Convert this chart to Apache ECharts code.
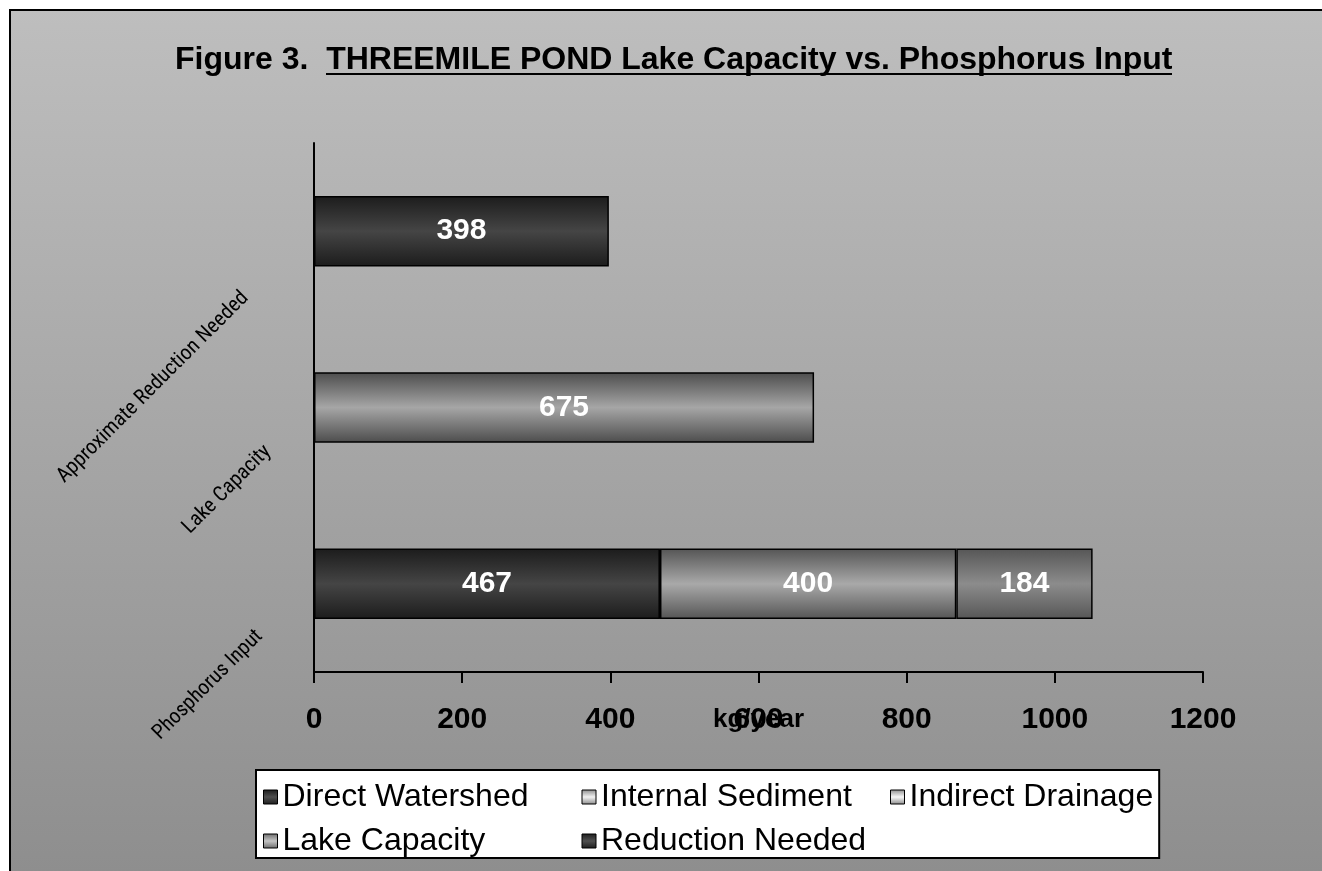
<!DOCTYPE html>
<html><head><meta charset="utf-8"><script src="https://cdn.jsdelivr.net/npm/echarts@6/dist/echarts.min.js"></script></head>
<body style="margin:0;background:#fff"><div id="c" style="width:1322px;height:871px"></div>
<script>
var titleLead = 'Figure 3.  ';
var titleMain = 'THREEMILE POND Lake Capacity vs. Phosphorus Input';
var categories = ['Phosphorus Input', 'Lake Capacity', 'Approximate Reduction Needed'];
var seriesNames = ['Direct Watershed', 'Internal Sediment', 'Indirect Drainage', 'Lake Capacity', 'Reduction Needed'];
var directWatershed = [467, '-', '-'];
var internalSediment = [400, '-', '-'];
var indirectDrainage = [184, '-', '-'];
var lakeCapacity = ['-', 675, '-'];
var reductionNeeded = ['-', '-', 398];
var xTicks = [0, 200, 400, 600, 800, 1000, 1200];
var xAxisName = 'kg/year';

function vgrad(edge, mid) {
  return new echarts.graphic.LinearGradient(0, 0, 0, 1, [
    {offset: 0, color: edge}, {offset: 0.5, color: mid}, {offset: 1, color: edge}
  ]);
}
var fills = [
  vgrad('#1c1c1c', '#454545'),
  vgrad('#555555', '#a9a9a9'),
  vgrad('#565656', '#8c8c8c'),
  vgrad('#4c4c4c', '#a6a6a6'),
  vgrad('#1c1c1c', '#454545')
];
var legendIcons = [
  vgrad('#1c1c1c', '#505050'),
  vgrad('#8a8a8a', '#f2f2f2'),
  vgrad('#8a8a8a', '#f6f6f6'),
  vgrad('#6a6a6a', '#c4c4c4'),
  vgrad('#1c1c1c', '#505050')
];
var dataSets = [directWatershed, internalSediment, indirectDrainage, lakeCapacity, reductionNeeded];
var legendWidths = [289, 279, null, 289, 279];

var series = seriesNames.map(function (n, i) {
  return {
    name: n, type: 'bar', stack: 'total', barWidth: '40%',
    data: dataSets[i],
    itemStyle: {color: fills[i], borderColor: '#000', borderWidth: 1.5},
    label: {show: true, position: 'inside', color: '#fff', fontFamily: 'Liberation Sans, Arial',
      fontWeight: 'bold', fontSize: 30},
    emphasis: {disabled: true}
  };
});

var labelFont = {fontFamily: 'Roboto Condensed', fontSize: 21, color: '#000'};
function rich(pad) {
  return Object.assign({padding: [0, pad, 0, 0]}, labelFont);
}

var chart = echarts.init(document.getElementById('c'));
chart.setOption({
  animation: false,
  backgroundColor: '#fff',
  graphic: [
    {type: 'rect', z: -10, silent: true,
      shape: {x: 10, y: 10, width: 1330, height: 880},
      style: {fill: new echarts.graphic.LinearGradient(0, 0, 0, 1, [
        {offset: 0, color: '#bebebe'}, {offset: 1, color: '#8d8d8d'}]),
        stroke: '#000', lineWidth: 2}},
    {type: 'line', z: 10, silent: true,
      shape: {x1: 326, y1: 74, x2: 1172, y2: 74},
      style: {stroke: '#000', lineWidth: 2}}
  ],
  title: {
    text: titleLead + titleMain,
    left: 175, top: 44, padding: 0,
    textStyle: {fontFamily: 'Liberation Sans, Arial', fontWeight: 'bold', fontSize: 32, color: '#000', lineHeight: 32}
  },
  grid: {left: 314, right: 119, top: 143, bottom: 199, containLabel: false, outerBoundsMode: 'none'},
  xAxis: {
    type: 'value', min: 0, max: 1200, interval: 200,
    name: xAxisName, nameLocation: 'middle', nameGap: 35, nameMoveOverlap: false,
    nameTextStyle: {fontFamily: 'Liberation Sans, Arial', fontWeight: 'bold', fontSize: 26, color: '#000'},
    axisLine: {show: true, lineStyle: {color: '#000', width: 2}},
    axisTick: {show: true, length: 11, lineStyle: {color: '#000', width: 2}},
    splitLine: {show: false},
    axisLabel: {margin: 33, color: '#000', fontFamily: 'Liberation Sans, Arial', fontWeight: 'bold', fontSize: 30,
      formatter: function (v) { return xTicks.indexOf(v) >= 0 ? String(v) : ''; }}
  },
  yAxis: {
    type: 'category', data: categories,
    axisLine: {show: true, lineStyle: {color: '#000', width: 2}},
    axisTick: {show: false},
    splitLine: {show: false},
    axisLabel: Object.assign({
      rotate: 45, interval: 0, margin: 5,
      formatter: function (v, i) { return '{c' + i + '|' + v + '}'; },
      rich: {c0: rich(70), c1: rich(58), c2: rich(90)}
    }, labelFont)
  },
  legend: {
    left: 256, top: 770, width: 900, orient: 'horizontal',
    padding: [10, 6, 0, 7], itemGap: 10, itemWidth: 14, itemHeight: 14,
    backgroundColor: '#fff', borderColor: '#000', borderWidth: 2,
    icon: 'rect', selectedMode: false,
    textStyle: {fontFamily: 'Liberation Sans, Arial', fontSize: 32, color: '#000', lineHeight: 34},
    data: seriesNames.map(function (n, i) {
      var d = {name: n, itemStyle: {color: legendIcons[i], borderColor: '#000', borderWidth: 1}};
      if (legendWidths[i]) d.textStyle = {width: legendWidths[i]};
      return d;
    })
  },
  series: series
});
</script></body></html>
